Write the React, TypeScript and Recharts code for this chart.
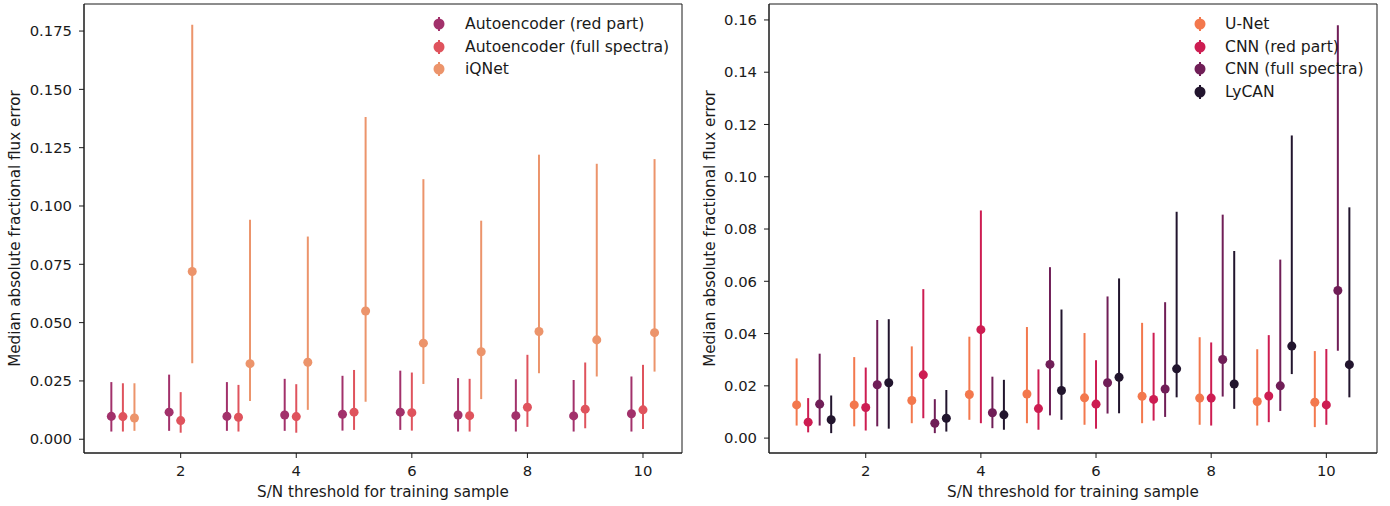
import {
  ScatterChart,
  Scatter,
  XAxis,
  YAxis,
  ZAxis,
  ErrorBar,
  ReferenceArea,
  Legend,
  Label,
} from 'recharts';

// S/N thresholds used for training
const thresholds = [1, 2, 3, 4, 5, 6, 7, 8, 9, 10];
const xTicks = [2, 4, 6, 8, 10];

// left panel: autoencoders vs iQNet
const aeRedMedian = [0.0098, 0.0116, 0.0098, 0.0104, 0.0107, 0.0116, 0.0104, 0.0101, 0.01, 0.0109];
const aeRedHigh = [0.0245, 0.0277, 0.0245, 0.0259, 0.0272, 0.0294, 0.0262, 0.0257, 0.0254, 0.0269];
const aeRedLow = [0.0033, 0.0036, 0.0036, 0.0036, 0.0037, 0.004, 0.0033, 0.0033, 0.0033, 0.0033];

const aeFullMedian = [0.0097, 0.008, 0.0094, 0.0097, 0.0116, 0.0114, 0.0101, 0.0137, 0.0129, 0.0126];
const aeFullHigh = [0.024, 0.0202, 0.0233, 0.0236, 0.0297, 0.0286, 0.0259, 0.0362, 0.0329, 0.0319];
const aeFullLow = [0.0033, 0.0028, 0.0033, 0.0028, 0.004, 0.0037, 0.0033, 0.0053, 0.0047, 0.0044];

const iqnetMedian = [0.0091, 0.0719, 0.0324, 0.033, 0.055, 0.0412, 0.0375, 0.0462, 0.0426, 0.0457];
const iqnetHigh = [0.024, 0.1777, 0.0941, 0.0869, 0.1381, 0.1115, 0.0937, 0.122, 0.1181, 0.1201];
const iqnetLow = [0.0036, 0.0326, 0.0164, 0.0126, 0.0161, 0.0237, 0.0172, 0.0283, 0.0269, 0.029];

// right panel: U-Net, CNNs and LyCAN
const unetMedian = [0.0127, 0.0127, 0.0144, 0.0167, 0.0169, 0.0154, 0.016, 0.0153, 0.014, 0.0137];
const unetHigh = [0.0305, 0.031, 0.0351, 0.0388, 0.0425, 0.0402, 0.0441, 0.0386, 0.034, 0.0333];
const unetLow = [0.0048, 0.0045, 0.0057, 0.007, 0.0057, 0.0051, 0.0057, 0.0051, 0.0048, 0.0042];

const cnnRedMedian = [0.0061, 0.0117, 0.0242, 0.0415, 0.0113, 0.013, 0.0148, 0.0153, 0.0161, 0.0127];
const cnnRedHigh = [0.0153, 0.027, 0.057, 0.0871, 0.0263, 0.0298, 0.0403, 0.0366, 0.0394, 0.0341];
const cnnRedLow = [0.0022, 0.0029, 0.0076, 0.0057, 0.0032, 0.0036, 0.0067, 0.0048, 0.0061, 0.0051];

const cnnFullMedian = [0.013, 0.0204, 0.0057, 0.0097, 0.0282, 0.0212, 0.0188, 0.0301, 0.02, 0.0565];
const cnnFullHigh = [0.0323, 0.0452, 0.0149, 0.0235, 0.0654, 0.0542, 0.052, 0.0855, 0.0683, 0.158];
const cnnFullLow = [0.0048, 0.0045, 0.0019, 0.0038, 0.0087, 0.0094, 0.0081, 0.0159, 0.0104, 0.0334];

const lycanMedian = [0.007, 0.0212, 0.0076, 0.0089, 0.0182, 0.0233, 0.0265, 0.0207, 0.0352, 0.0281];
const lycanHigh = [0.0163, 0.0455, 0.0184, 0.0223, 0.0492, 0.0611, 0.0866, 0.0716, 0.1158, 0.0883];
const lycanLow = [0.0019, 0.0036, 0.0025, 0.0032, 0.007, 0.0095, 0.0156, 0.0112, 0.0245, 0.0156];

const leftTicks = [0, 0.025, 0.05, 0.075, 0.1, 0.125, 0.15, 0.175];
const rightTicks = [0, 0.02, 0.04, 0.06, 0.08, 0.1, 0.12, 0.14, 0.16];

const FONT = '"DejaVu Sans", sans-serif';
const INK = '#1a1a1a';

type Series = {
  name: string;
  color: string;
  offset: number;
  median: number[];
  low: number[];
  high: number[];
};

const leftSeries: Series[] = [
  { name: 'Autoencoder (red part)', color: '#a2316b', offset: -0.2, median: aeRedMedian, low: aeRedLow, high: aeRedHigh },
  { name: 'Autoencoder (full spectra)', color: '#df535d', offset: 0, median: aeFullMedian, low: aeFullLow, high: aeFullHigh },
  { name: 'iQNet', color: '#ec946b', offset: 0.2, median: iqnetMedian, low: iqnetLow, high: iqnetHigh },
];

const rightSeries: Series[] = [
  { name: 'U-Net', color: '#f3784d', offset: -0.2, median: unetMedian, low: unetLow, high: unetHigh },
  { name: 'CNN (red part)', color: '#cd1d52', offset: 0, median: cnnRedMedian, low: cnnRedLow, high: cnnRedHigh },
  { name: 'CNN (full spectra)', color: '#701e57', offset: 0.2, median: cnnFullMedian, low: cnnFullLow, high: cnnFullHigh },
  { name: 'LyCAN', color: '#22152e', offset: 0.4, median: lycanMedian, low: lycanLow, high: lycanHigh },
];

const toPoints = (s: Series) =>
  thresholds.map((t, i) => ({
    x: t + s.offset,
    y: s.median[i],
    err: [s.median[i] - s.low[i], s.high[i] - s.median[i]],
  }));

// matplotlib-ish errorbar legend: dot with a short vertical line
const ErrLegend = ({ series, gap }: { series: Series[]; gap: number }) => (
  <div style={{ fontFamily: FONT, fontSize: 15.6, color: INK }}>
    {series.map((s) => (
      <div key={s.name} style={{ display: 'flex', alignItems: 'center', height: 22.5 }}>
        <svg width={20} height={20} style={{ marginRight: gap, display: 'block' }}>
          <line x1={10} x2={10} y1={3} y2={17} stroke={s.color} strokeWidth={2} />
          <circle cx={10} cy={10} r={5.5} fill={s.color} />
        </svg>
        <span style={{ whiteSpace: 'nowrap' }}>{s.name}</span>
      </div>
    ))}
  </div>
);

const Panel = ({
  left,
  width,
  yAxisWidth,
  marginRight,
  series,
  xDomain,
  yDomain,
  yTicks,
  digits,
  labelDx,
  legendLeft,
  legendGap,
}: {
  left: number;
  width: number;
  yAxisWidth: number;
  marginRight: number;
  series: Series[];
  xDomain: [number, number];
  yDomain: [number, number];
  yTicks: number[];
  digits: number;
  labelDx: number;
  legendLeft: number;
  legendGap: number;
}) => {
  const tickStyle = { fontFamily: FONT, fontSize: 14.8, fill: INK };
  const labelStyle = { fontFamily: FONT, fontSize: 15.2, fill: INK };
  return (
    <div style={{ position: 'absolute', left, top: 0 }}>
      <ScatterChart width={width} height={506} margin={{ top: 4, right: marginRight, bottom: 0, left: 0 }}>
        <XAxis
          type="number"
          dataKey="x"
          domain={xDomain}
          ticks={xTicks}
          allowDataOverflow
          height={53}
          tickSize={5}
          tickMargin={7}
          tick={tickStyle}
          stroke={INK}
        >
          <Label value="S/N threshold for training sample" position="center" dy={12} style={labelStyle} />
        </XAxis>
        <YAxis
          type="number"
          dataKey="y"
          domain={yDomain}
          ticks={yTicks}
          allowDataOverflow
          width={yAxisWidth}
          tickSize={5}
          tickMargin={7}
          tick={tickStyle}
          stroke={INK}
          tickFormatter={(v: number) => v.toFixed(digits)}
        >
          <Label
            value="Median absolute fractional flux error"
            position="center"
            angle={-90}
            dx={labelDx}
            style={{ ...labelStyle, textAnchor: 'middle' }}
          />
        </YAxis>
        <ZAxis range={[105, 105]} />
        <ReferenceArea
          x1={xDomain[0]}
          x2={xDomain[1]}
          y1={yDomain[0]}
          y2={yDomain[1]}
          fill="none"
          stroke={INK}
          strokeWidth={1}
        />
        {series.map((s) => (
          <Scatter
            key={s.name}
            name={s.name}
            data={toPoints(s)}
            fill={s.color}
            shape="circle"
            isAnimationActive={false}
          >
            <ErrorBar dataKey="err" direction="y" width={0} stroke={s.color} strokeWidth={2} />
          </Scatter>
        ))}
        <Legend
          layout="vertical"
          align="center"
          verticalAlign="middle"
          wrapperStyle={{ left: legendLeft, top: 13, width: 'auto' }}
          content={() => <ErrLegend series={series} gap={legendGap} />}
        />
      </ScatterChart>
    </div>
  );
};

export default function App() {
  return (
    <div style={{ position: 'absolute', left: 0, top: 0, width: 1390, height: 506, background: '#fff' }}>
      <Panel
        left={0}
        width={690}
        yAxisWidth={84}
        marginRight={8}
        series={leftSeries}
        xDomain={[0.327, 10.675]}
        yDomain={[-0.0059, 0.1866]}
        yTicks={leftTicks}
        digits={3}
        labelDx={-27}
        legendLeft={429}
        legendGap={16}
      />
      <Panel
        left={690}
        width={700}
        yAxisWidth={79}
        marginRight={13}
        series={rightSeries}
        xDomain={[0.32, 10.88]}
        yDomain={[-0.0057, 0.1661]}
        yTicks={rightTicks}
        digits={2}
        labelDx={-19.5}
        legendLeft={500}
        legendGap={15}
      />
    </div>
  );
}
